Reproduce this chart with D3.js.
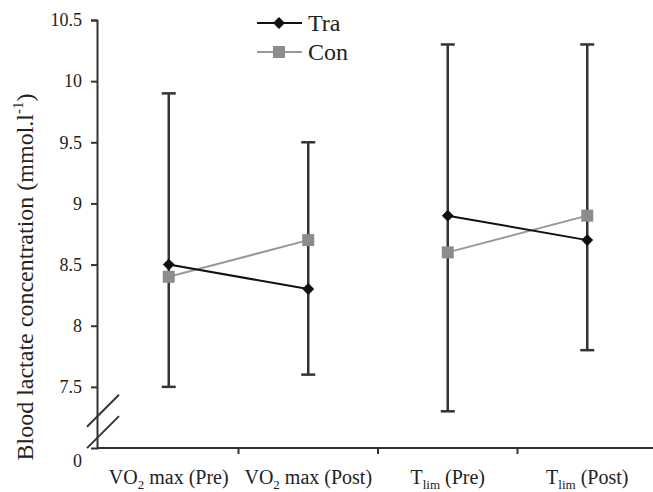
<!DOCTYPE html>
<html>
<head>
<meta charset="utf-8">
<script src="https://cdn.jsdelivr.net/npm/d3@7"></script>
<style>
  body { margin: 0; background: #fff; }
  svg { display: block; font-family: "Liberation Serif", "DejaVu Serif", serif; }
</style>
</head>
<body>
<svg width="653" height="492"></svg>
<script>
// categories / values
const categories = ["VO2max Pre", "VO2max Post", "Tlim Pre", "Tlim Post"];
const catLabels = [
  ["VO", "2", " max (Pre)"],
  ["VO", "2", " max (Post)"],
  ["T", "lim", " (Pre)"],
  ["T", "lim", " (Post)"]
];
const traValues = [8.5, 8.3, 8.9, 8.7];
const conValues = [8.4, 8.7, 8.6, 8.9];
const errTop = [9.9, 9.5, 10.3, 10.3];
const errBottom = [7.5, 7.6, 7.3, 7.8];
const segments = [[0, 1], [2, 3]];   // Pre -> Post pairs joined by lines
const yTicks = [7, 7.5, 8, 8.5, 9, 9.5, 10, 10.5];
const yTickLabels = ["0", "7.5", "8", "8.5", "9", "9.5", "10", "10.5"];

const svg = d3.select("svg");
const axisColor = "#333";

const x = d3.scaleBand().domain(categories).range([99, 657]).padding(0);
const cx = c => x(c) + x.bandwidth() / 2;
const y = d3.scaleLinear().domain([7, 10.5]).range([448, 20]);

// y axis
const yAxis = svg.append("g")
  .attr("transform", "translate(97,0)")
  .call(d3.axisLeft(y).tickValues(yTicks)
    .tickFormat((d, i) => yTickLabels[i]).tickSize(6).tickPadding(9));
yAxis.select(".domain").attr("stroke", axisColor).attr("stroke-width", 2);
yAxis.selectAll(".tick line").attr("stroke", axisColor).attr("stroke-width", 2);
yAxis.selectAll(".tick text")
  .attr("font-family", "Liberation Serif, serif")
  .attr("font-size", 18).attr("fill", "#222");
yAxis.selectAll(".tick").filter(d => d === 7).select("line").remove();
yAxis.selectAll(".tick").filter(d => d === 7).select("text").attr("y", 13);

// x axis line
svg.append("line")
  .attr("x1", 97).attr("x2", 653)
  .attr("y1", y(7)).attr("y2", y(7))
  .attr("stroke", axisColor).attr("stroke-width", 2);

// boundary ticks between categories
svg.selectAll(".xtick").data(categories.slice(1)).join("line")
  .attr("class", "xtick")
  .attr("x1", d => x(d)).attr("x2", d => x(d))
  .attr("y1", y(7)).attr("y2", y(7) + 6)
  .attr("stroke", axisColor).attr("stroke-width", 2);

// category labels (with subscripts)
const lab = svg.selectAll(".xlab").data(categories).join("text")
  .attr("class", "xlab")
  .attr("x", d => cx(d))
  .attr("y", 484)
  .attr("text-anchor", "middle")
  .attr("font-size", 20)
  .attr("fill", "#222");
lab.each(function (d, i) {
  const t = d3.select(this);
  const parts = catLabels[i];
  t.append("tspan").text(parts[0]);
  t.append("tspan").attr("font-size", 13).attr("dy", 5).text(parts[1]);
  t.append("tspan").attr("dy", -5).text(parts[2]);
});

// axis break marks
const brk = [7.305, 7.13];
svg.selectAll(".brk").data(brk).join("line")
  .attr("class", "brk")
  .attr("x1", 87).attr("y1", d => y(d) + 16)
  .attr("x2", 119).attr("y2", d => y(d) - 16)
  .attr("stroke", axisColor).attr("stroke-width", 2);

// y axis title
const yt = svg.append("text")
  .attr("transform", "translate(33,277) rotate(-90)")
  .attr("text-anchor", "middle")
  .attr("font-size", 24)
  .attr("fill", "#222");
yt.append("tspan").text("Blood lactate concentration (mmol.l");
yt.append("tspan").attr("font-size", 15).attr("dy", -10).text("-1");
yt.append("tspan").attr("dy", 10).text(")");

// error bars
const errG = svg.append("g");
categories.forEach((c, i) => {
  const px = cx(c);
  errG.append("line")
    .attr("x1", px).attr("x2", px)
    .attr("y1", y(errTop[i])).attr("y2", y(errBottom[i]))
    .attr("stroke", axisColor).attr("stroke-width", 2.5);
  [errTop[i], errBottom[i]].forEach(v => {
    errG.append("line")
      .attr("x1", px - 7).attr("x2", px + 7)
      .attr("y1", y(v)).attr("y2", y(v))
      .attr("stroke", axisColor).attr("stroke-width", 2.5);
  });
});

const line = d3.line().x(d => cx(categories[d.i])).y(d => y(d.v));
const diamond = d3.symbol().type(d3.symbolDiamond2).size(90);
const segData = vals => segments.map(s => s.map(i => ({ i, v: vals[i] })));

// Con series
svg.selectAll(".conline").data(segData(conValues)).join("path")
  .attr("class", "conline")
  .attr("d", line).attr("fill", "none")
  .attr("stroke", "#999").attr("stroke-width", 2);
svg.selectAll(".con").data(conValues).join("rect")
  .attr("class", "con")
  .attr("x", (d, i) => cx(categories[i]) - 6)
  .attr("y", d => y(d) - 6)
  .attr("width", 12).attr("height", 12)
  .attr("fill", "#8c8c8c");

// Tra series
svg.selectAll(".traline").data(segData(traValues)).join("path")
  .attr("class", "traline")
  .attr("d", line).attr("fill", "none")
  .attr("stroke", "#111").attr("stroke-width", 2);
svg.selectAll(".tra").data(traValues).join("path")
  .attr("class", "tra")
  .attr("transform", (d, i) => `translate(${cx(categories[i])},${y(d)})`)
  .attr("d", diamond)
  .attr("fill", "#111");

// legend
const legend = [
  { name: "Tra", color: "#111", ly: 23, shape: "diamond" },
  { name: "Con", color: "#999", ly: 52, shape: "square" }
];
legend.forEach(l => {
  svg.append("line")
    .attr("x1", 257).attr("x2", 302).attr("y1", l.ly).attr("y2", l.ly)
    .attr("stroke", l.color).attr("stroke-width", 2);
  if (l.shape === "diamond") {
    svg.append("path").attr("transform", `translate(279,${l.ly})`)
      .attr("d", diamond).attr("fill", "#111");
  } else {
    svg.append("rect").attr("x", 273).attr("y", l.ly - 6)
      .attr("width", 12).attr("height", 12).attr("fill", "#8c8c8c");
  }
  svg.append("text")
    .attr("x", 308).attr("y", l.ly + 8)
    .attr("font-size", 24).attr("fill", "#222")
    .text(l.name);
});
</script>
</body>
</html>
